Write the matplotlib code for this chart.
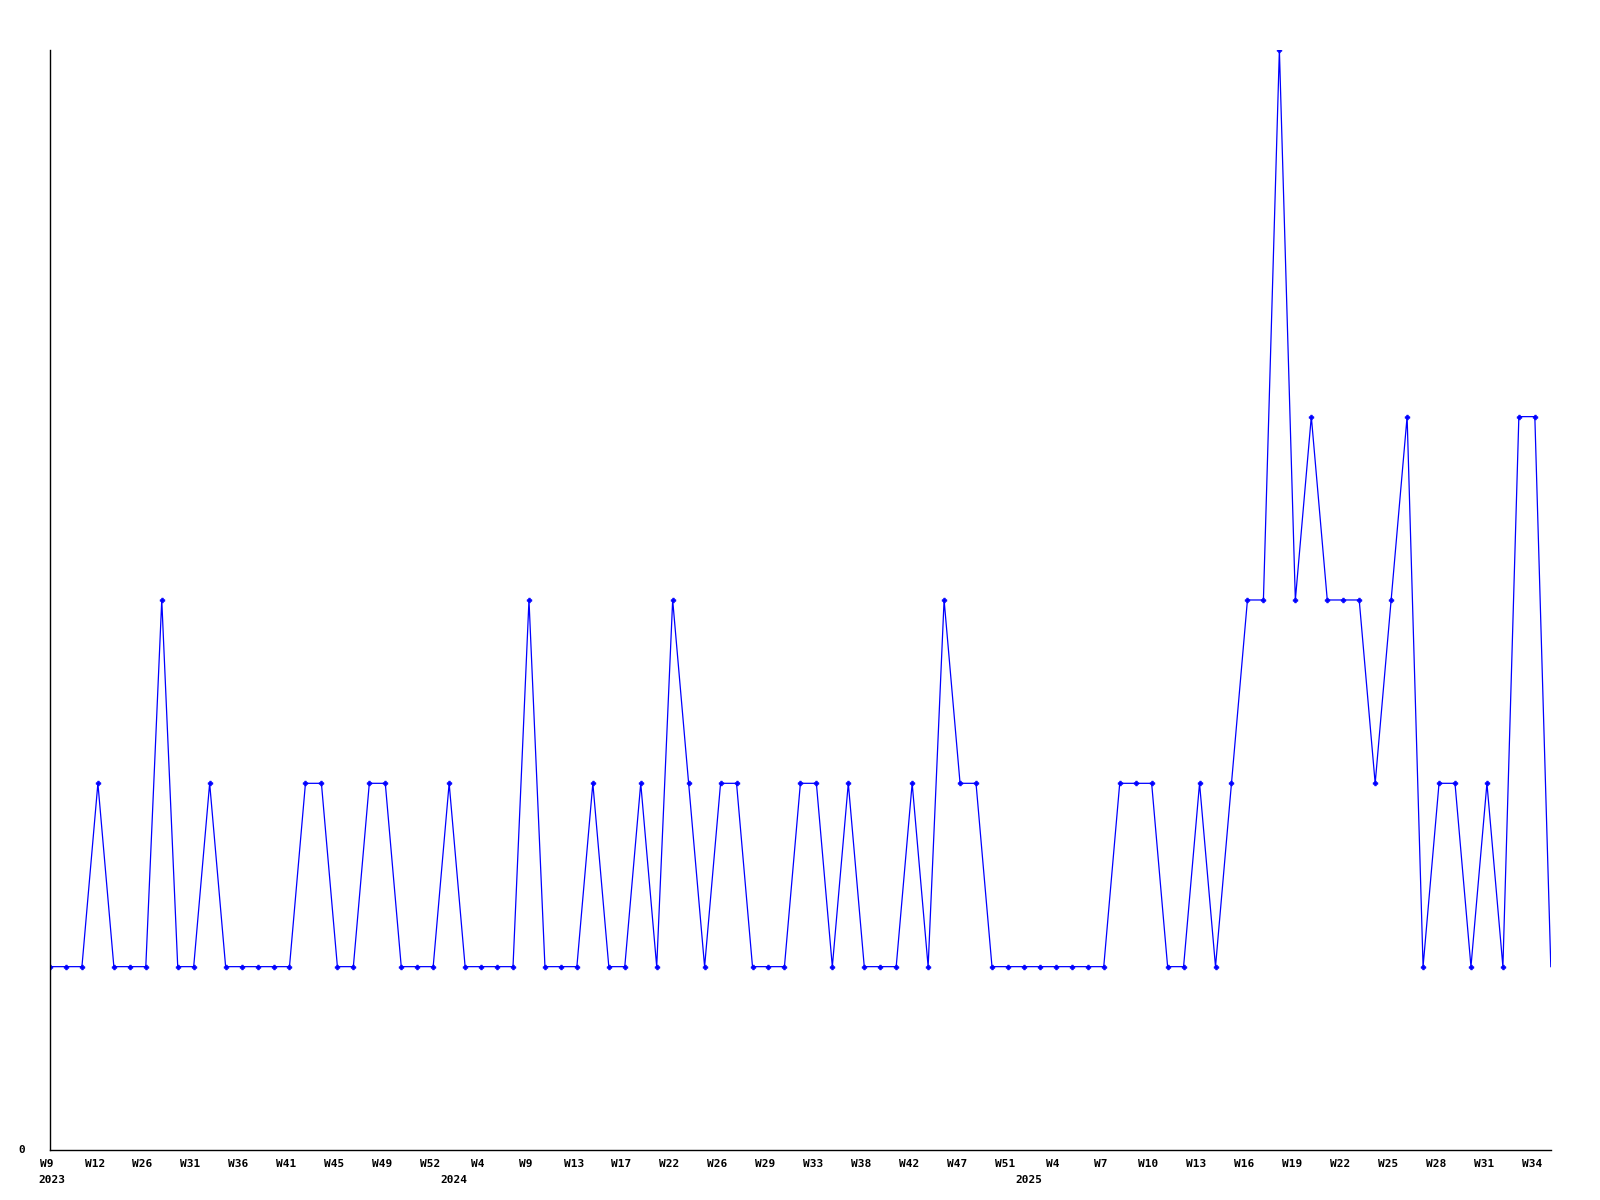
#!/usr/bin/env python3

import matplotlib
matplotlib.use('Agg')
import matplotlib.pyplot as plt

# weekly counts, one per point
counts = [1, 1, 1, 2, 1, 1, 1, 3, 1, 1,
          2, 1, 1, 1, 1, 1, 2, 2, 1, 1,
          2, 2, 1, 1, 1, 2, 1, 1, 1, 1,
          3, 1, 1, 1, 2, 1, 1, 2, 1, 3,
          2, 1, 2, 2, 1, 1, 1, 2, 2, 1,
          2, 1, 1, 1, 2, 1, 3, 2, 2, 1,
          1, 1, 1, 1, 1, 1, 1, 2, 2, 2,
          1, 1, 2, 1, 2, 3, 3, 6, 3, 4,
          3, 3, 3, 2, 3, 4, 1, 2, 2, 1,
          2, 1, 4, 4, 1]

# tick labels every third point
week_labels = ['W9', 'W12', 'W26', 'W31', 'W36', 'W41', 'W45', 'W49', 'W52', 'W4',
               'W9', 'W13', 'W17', 'W22', 'W26', 'W29', 'W33', 'W38', 'W42', 'W47',
               'W51', 'W4', 'W7', 'W10', 'W13', 'W16', 'W19', 'W22', 'W25', 'W28',
               'W31', 'W34']
year_labels = ['2023', '2024', '2025']
year_start = [0, 25, 61]   # index of first point of each year

x = list(range(len(counts)))

fig = plt.figure(figsize=(16, 12), dpi=100)
ax = fig.add_axes([0.03125, 0.04167, 0.938, 0.9167])

ax.plot(x, counts, color='#0000ff', lw=0.9)
# last week has no marker (still running)
ax.plot(x[:-1], counts[:-1], ls='none', marker='P', ms=3.4,
        color='#0000ff', mec='#0000ff', mew=0.5)

ax.set_xlim(0, len(counts) - 1)
ax.set_ylim(0, max(counts))

for s in ['top', 'right']:
    ax.spines[s].set_visible(False)
for s in ['left', 'bottom']:
    ax.spines[s].set_linewidth(1.0)
    ax.spines[s].set_color('black')

ax.set_xticks([])
ax.set_yticks([])

font = dict(family='DejaVu Sans Mono', fontweight='bold', fontsize=8)
trans = ax.get_xaxis_transform()
for i, lab in enumerate(week_labels):
    ax.text(x[i * 3] - 0.2, -0.008, lab, transform=trans, ha='center', va='top', **font)
for i, (lab, st) in enumerate(zip(year_labels, year_start)):
    if i == 0:
        ax.text(-0.75, -0.023, lab, transform=trans, ha='left', va='top', **font)
    else:
        ax.text(st + 0.3, -0.023, lab, transform=trans, ha='center', va='top', **font)

ax.text(-1.75, 0, '0', transform=trans, ha='center', va='center', **font)

fig.savefig('out.png', dpi=100)
